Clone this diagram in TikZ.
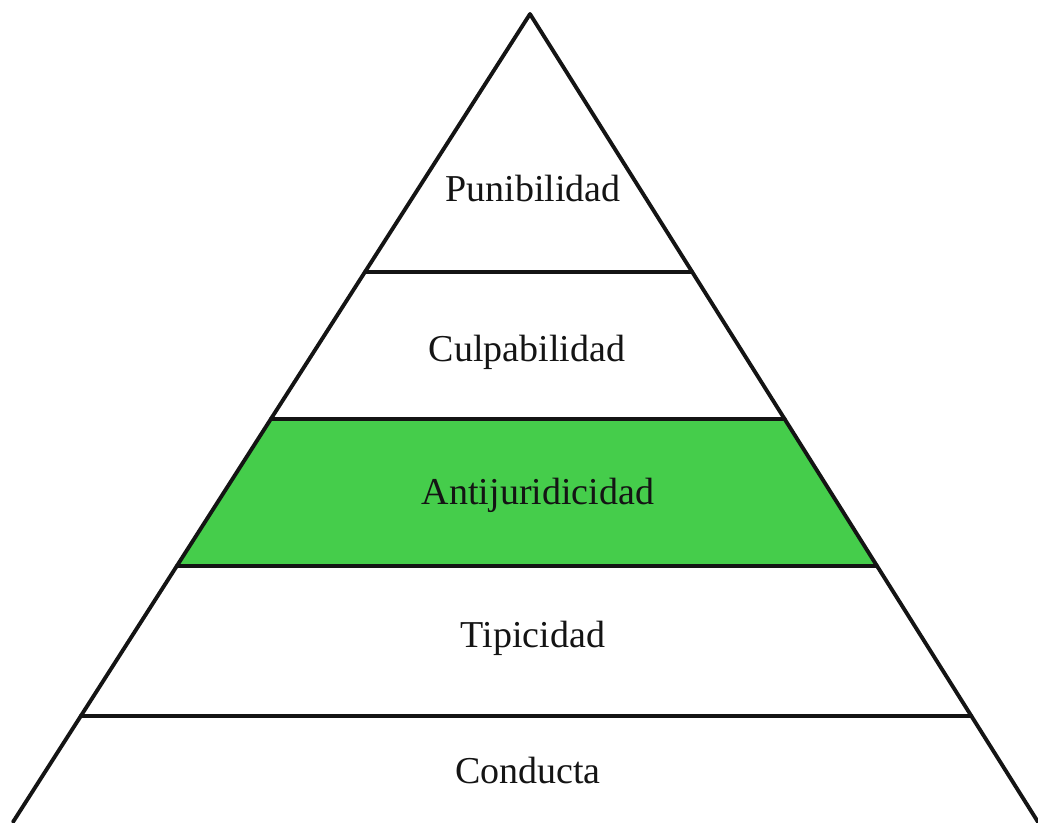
\documentclass[tikz,border=0pt]{standalone}
\usepackage{fontspec}
\setmainfont{Liberation Serif}
\usetikzlibrary{calc}
\definecolor{bandgreen}{RGB}{69,205,75}
\begin{document}
\begin{tikzpicture}[x=0.75pt,y=-0.75pt,
  edge/.style={line width=2.9pt,black!92,line cap=round,line join=round},
  label/.style={font=\fontsize{28.5}{30}\selectfont,text=black!92,anchor=base}]
\useasboundingbox (0,0) rectangle (1038,822);
% outline corners and band boundaries
\coordinate (apex) at (530,14);
\coordinate (bl) at (13,822);
\coordinate (br) at (1038,822);
\coordinate (l1) at ($(apex)!{(272-14)/808}!(bl)$);
\coordinate (r1) at ($(apex)!{(272-14)/808}!(br)$);
\coordinate (l2) at ($(apex)!{(419-14)/808}!(bl)$);
\coordinate (r2) at ($(apex)!{(419-14)/808}!(br)$);
\coordinate (l3) at ($(apex)!{(566-14)/808}!(bl)$);
\coordinate (r3) at ($(apex)!{(566-14)/808}!(br)$);
\coordinate (l4) at ($(apex)!{(716-14)/808}!(bl)$);
\coordinate (r4) at ($(apex)!{(716-14)/808}!(br)$);
% highlighted band
\fill[bandgreen] (l2) -- (r2) -- (r3) -- (l3) -- cycle;
% sides and dividers
\draw[edge] (bl) -- (apex) -- (br);
\draw[edge] (l1) -- (r1);
\draw[edge] (l2) -- (r2);
\draw[edge] (l3) -- (r3);
\draw[edge] (l4) -- (r4);
% level labels
\node[label] (pun) at (533,201) {Punibilidad};
\node[label] (cul) at (527,361) {Culpabilidad};
\node[label] (ant) at (538,504) {Antijuridicidad};
\node[label] (tip) at (533,647) {Tipicidad};
\node[label] (con) at (528,783) {Conducta};
\end{tikzpicture}
\end{document}
